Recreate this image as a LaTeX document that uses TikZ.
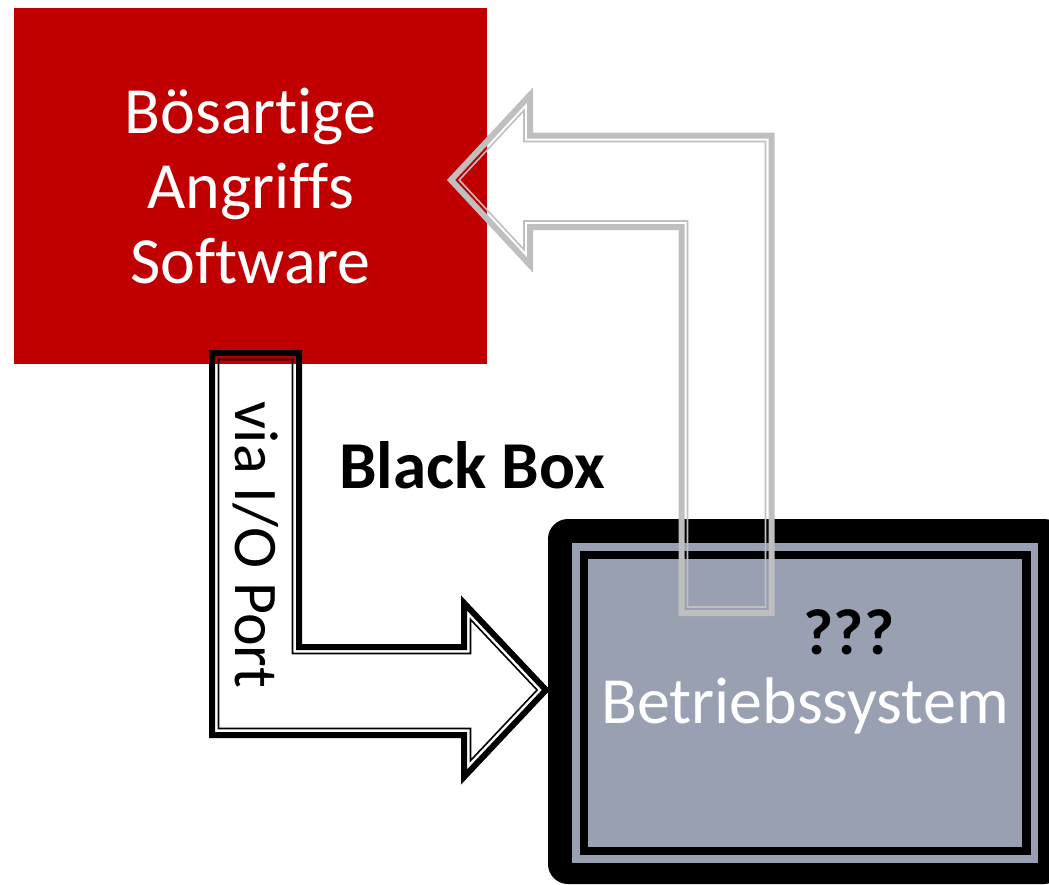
\documentclass[tikz,border=0pt]{standalone}
\usepackage{fontspec}
\setmainfont{Carlito}[Ligatures=NoCommon]
\definecolor{attackred}{HTML}{C00000}
\definecolor{osgray}{HTML}{98A0B2}
\definecolor{linkgray}{HTML}{BFBFBF}
\tikzset{
  thickpart/.style={line width=6pt, line join=miter, miter limit=10},
  thinpart/.style={line width=1.6pt, line join=miter, miter limit=10},
  bigtext/.style={font=\fontsize{66}{75}\selectfont, inner sep=0pt},
}
\begin{document}
\begin{tikzpicture}[x=1pt, y=-1pt]
  \useasboundingbox (0,0) rectangle (1049,884);
  \clip (0,0) rectangle (1049,884);
  \fill[white] (0,0) rectangle (1049,884);

  % attacker box
  \node[fill=attackred, minimum width=473pt, minimum height=356pt, inner sep=0pt,
        anchor=north west] (attacker) at (14,8) {};
  \node[bigtext, text=white, align=center] (attackertext) at (250.5,186)
    {Bösartige\\Angriffs\\Software};

  % operating system box with heavy framed border
  \fill[black, rounded corners=20pt] (548,519) rectangle (1064,884);
  \fill[osgray] (572,543) rectangle (1038,863);
  \fill[black] (580,551) rectangle (1031,855);
  \node[fill=osgray, minimum width=434pt, minimum height=288pt, inner sep=0pt,
        anchor=north west] (os) at (588,559) {};
  \node[bigtext, font=\bfseries\fontsize{65}{70}\selectfont, anchor=base] (unknown) at (849,654) {???};
  \node[bigtext, font=\fontsize{66}{70}\selectfont, text=white, anchor=base] (ostext) at (805,723) {Betriebssystem};

  % input arrow: attacker -> OS
  \draw[black, thickpart] (212,353) -- (299,353) -- (299,647) -- (464,647) -- (464,603)
    -- (546,690) -- (464,777) -- (464,735) -- (212,735) -- cycle;
  \draw[black, thinpart] (218.5,359.5) -- (292.5,359.5) -- (292.5,653.5) -- (470.5,653.5)
    -- (470.5,619.4) -- (537.1,690) -- (470.5,760.6) -- (470.5,728.5) -- (218.5,728.5) -- cycle;
  \node[bigtext, font=\fontsize{62}{70}\selectfont, rotate=-90, anchor=base] (port) at (235,545) {via I/O Port};

  % output arrow: OS -> attacker
  \draw[linkgray, thickpart] (771.5,135.5) -- (771.5,613) -- (681.5,613) -- (681.5,227)
    -- (530,227) -- (530,265) -- (451,180) -- (530,95) -- (530,135.5) -- cycle;
  \draw[linkgray, thinpart] (765.5,141.5) -- (765.5,607) -- (687.5,607) -- (687.5,221)
    -- (524,221) -- (524,249.7) -- (459.2,180) -- (524,110.3) -- (524,141.5) -- cycle;

  % label between the boxes
  \node[bigtext, font=\bfseries\fontsize{67}{70}\selectfont, anchor=base] (blackbox) at (472,488) {Black Box};
\end{tikzpicture}
\end{document}
